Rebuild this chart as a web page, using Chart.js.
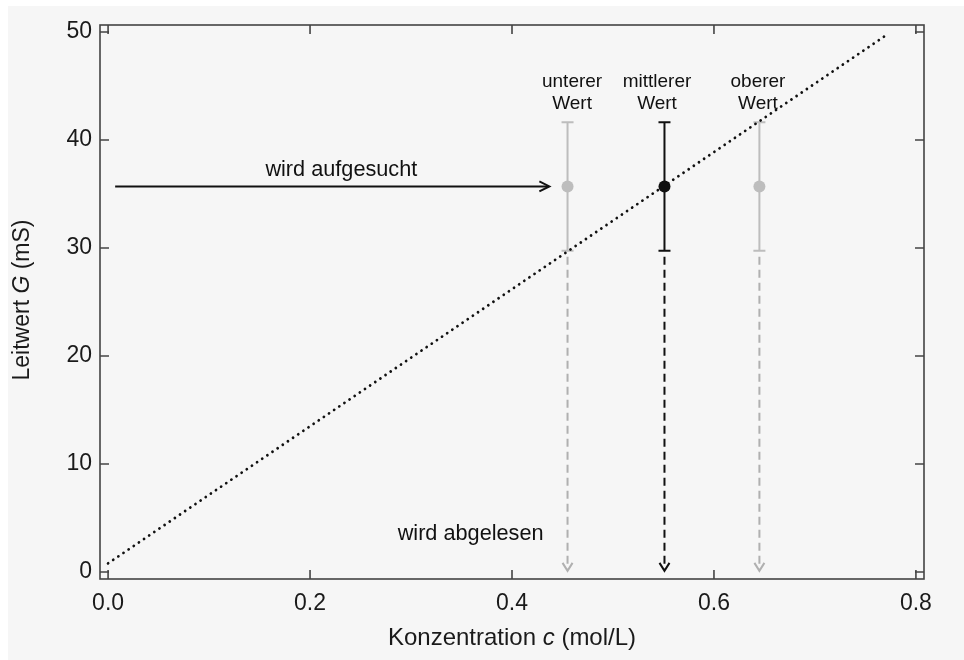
<!DOCTYPE html>
<html>
<head>
<meta charset="utf-8">
<script src="https://cdn.jsdelivr.net/npm/chart.js@4/dist/chart.umd.min.js"></script>
<style>
  html, body { margin: 0; padding: 0; background: #ffffff; }
  #wrap { width: 964px; height: 660px; position: relative; }
</style>
</head>
<body>
<div id="wrap"><canvas id="c" width="964" height="660"></canvas></div>
<script>
// ---- data ----
const calibC = [0.0, 0.772];          // calibration line, concentration (mol/L)
const calibG = [0.8, 49.8];           // calibration line, conductance (mS)
const pointC = [0.455, 0.551, 0.645]; // lower / middle / upper concentration
const pointG = [35.7, 35.7, 35.7];    // measured conductance
const pointErr = [5.95, 5.95, 5.95];  // conductance uncertainty
const pointNames = [["unterer", "Wert"], ["mittlerer", "Wert"], ["oberer", "Wert"]];
const xTicks = [0.0, 0.2, 0.4, 0.6, 0.8];
const yTicks = [0, 10, 20, 30, 40, 50];
const searchArrowC = [0.007, 0.437];  // "wird aufgesucht" arrow
const readArrowG = [29.2, 0.1];
const labelSearch = "wird aufgesucht";
const labelRead = "wird abgelesen";

const FONT = '"Liberation Sans", Arial, sans-serif';
const greyMark = '#bdbdbd';
const greyArrow = '#b0b0b0';
const ink = '#111111';
const markColors = [greyMark, ink, greyMark];
const arrowColors = [greyArrow, ink, greyArrow];

function arrowHead(ctx, x, y, dx, dy, len, half) {
  const px = -dy, py = dx;
  ctx.beginPath();
  ctx.moveTo(x - dx * len + px * half, y - dy * len + py * half);
  ctx.lineTo(x, y);
  ctx.lineTo(x - dx * len - px * half, y - dy * len - py * half);
  ctx.stroke();
}

const decor = {
  id: 'decor',
  beforeDraw(chart) {
    const ctx = chart.ctx;
    ctx.save();
    ctx.fillStyle = '#ffffff';
    ctx.fillRect(0, 0, chart.width, chart.height);
    ctx.fillStyle = '#f6f6f6';
    ctx.fillRect(8, 6, chart.width - 8, chart.height - 6);
    ctx.restore();
  },
  beforeDatasetsDraw(chart) {
    const ctx = chart.ctx, xs = chart.scales.x, ys = chart.scales.y;
    ctx.save();
    // error bars
    pointC.forEach((c, i) => {
      const x = xs.getPixelForValue(c);
      const yT = ys.getPixelForValue(pointG[i] + pointErr[i]);
      const yB = ys.getPixelForValue(pointG[i] - pointErr[i]);
      ctx.strokeStyle = markColors[i];
      ctx.lineWidth = 2;
      ctx.beginPath();
      ctx.moveTo(x, yT); ctx.lineTo(x, yB);
      ctx.moveTo(x - 6, yT); ctx.lineTo(x + 6, yT);
      ctx.moveTo(x - 6, yB); ctx.lineTo(x + 6, yB);
      ctx.stroke();
    });
    // dashed read-off arrows
    pointC.forEach((c, i) => {
      const x = xs.getPixelForValue(c);
      const y0 = ys.getPixelForValue(readArrowG[0]);
      const y1 = ys.getPixelForValue(readArrowG[1]);
      ctx.strokeStyle = arrowColors[i];
      ctx.lineWidth = 2;
      ctx.setLineDash([8, 5]);
      ctx.beginPath();
      ctx.moveTo(x, y0); ctx.lineTo(x, y1 - 2);
      ctx.stroke();
      ctx.setLineDash([]);
      arrowHead(ctx, x, y1, 0, 1, 8, 5);
    });
    // horizontal search arrow
    const yh = ys.getPixelForValue(pointG[0]);
    const xa = xs.getPixelForValue(searchArrowC[0]);
    const xb = xs.getPixelForValue(searchArrowC[1]);
    ctx.strokeStyle = ink;
    ctx.lineWidth = 2;
    ctx.beginPath();
    ctx.moveTo(xa, yh); ctx.lineTo(xb - 1, yh);
    ctx.stroke();
    arrowHead(ctx, xb, yh, 1, 0, 10, 5);
    ctx.restore();
  },
  afterDraw(chart) {
    const ctx = chart.ctx, xs = chart.scales.x, ys = chart.scales.y;
    const a = chart.chartArea;
    ctx.save();
    // frame
    ctx.strokeStyle = '#444444';
    ctx.lineWidth = 1.6;
    ctx.strokeRect(a.left, a.top, a.right - a.left, a.bottom - a.top);
    // inward ticks on all four sides
    ctx.beginPath();
    xTicks.forEach(v => {
      const x = xs.getPixelForValue(v);
      ctx.moveTo(x, a.bottom); ctx.lineTo(x, a.bottom - 9);
      ctx.moveTo(x, a.top); ctx.lineTo(x, a.top + 9);
    });
    yTicks.forEach(v => {
      const y = ys.getPixelForValue(v);
      ctx.moveTo(a.left, y); ctx.lineTo(a.left + 9, y);
      ctx.moveTo(a.right, y); ctx.lineTo(a.right - 9, y);
    });
    ctx.stroke();

    // point labels
    ctx.fillStyle = ink;
    ctx.textAlign = 'center';
    ctx.textBaseline = 'middle';
    ctx.font = '19px ' + FONT;
    const labelC = [0.4595, 0.5436, 0.6436];
    pointNames.forEach((lines, i) => {
      const x = xs.getPixelForValue(labelC[i]);
      ctx.fillText(lines[0], x, ys.getPixelForValue(45.4));
      ctx.fillText(lines[1], x, ys.getPixelForValue(43.35));
    });
    ctx.font = '21.7px ' + FONT;
    ctx.fillText(labelSearch, xs.getPixelForValue(0.231), ys.getPixelForValue(37.2));
    ctx.fillText(labelRead, xs.getPixelForValue(0.359), ys.getPixelForValue(3.5));

    // axis titles with italic symbols
    function mixed(parts, cx, cy, size) {
      let w = 0;
      parts.forEach(p => { ctx.font = p[1] + size + 'px ' + FONT; w += ctx.measureText(p[0]).width; });
      let x = cx - w / 2;
      ctx.textAlign = 'left';
      parts.forEach(p => {
        ctx.font = p[1] + size + 'px ' + FONT;
        ctx.fillText(p[0], x, cy);
        x += ctx.measureText(p[0]).width;
      });
    }
    ctx.fillStyle = '#1a1a1a';
    mixed([["Konzentration ", ""], ["c", "italic "], [" (mol/L)", ""]], 512, 638, 24);
    ctx.save();
    ctx.translate(23, 300);
    ctx.rotate(-Math.PI / 2);
    mixed([["Leitwert ", ""], ["G", "italic "], [" (mS)", ""]], 0, 0, 23);
    ctx.restore();
    ctx.restore();
  }
};

const tickSet = (vals) => (scale) => { scale.ticks = vals.map(v => ({ value: v })); };

new Chart(document.getElementById('c'), {
  type: 'scatter',
  data: {
    datasets: [
      {
        label: 'Kalibriergerade',
        data: calibC.map((c, i) => ({ x: c, y: calibG[i] })),
        showLine: true,
        borderColor: ink,
        borderWidth: 2.8,
        borderDash: [0.01, 6.2],
        borderCapStyle: 'round',
        pointRadius: 0,
        fill: false
      },
      {
        label: 'Messwerte',
        data: pointC.map((c, i) => ({ x: c, y: pointG[i] })),
        pointRadius: 6,
        pointBackgroundColor: markColors,
        pointBorderColor: markColors,
        pointBorderWidth: 0
      }
    ]
  },
  options: {
    responsive: false,
    animation: false,
    events: [],
    layout: { padding: { top: 25, right: 40, left: 0, bottom: 0 } },
    plugins: { legend: { display: false }, tooltip: { enabled: false } },
    scales: {
      x: {
        type: 'linear',
        min: -0.008, max: 0.808,
        afterBuildTicks: tickSet(xTicks),
        afterFit: (s) => { s.height = 81; },
        grid: { display: false, drawTicks: false },
        border: { display: false },
        ticks: {
          padding: 11,
          color: '#1a1a1a',
          font: { family: FONT, size: 23 },
          callback: (v) => Number(v).toFixed(1),
          maxRotation: 0
        }
      },
      y: {
        type: 'linear',
        min: -0.65, max: 50.65,
        afterBuildTicks: tickSet(yTicks),
        afterFit: (s) => { s.width = 100; },
        grid: { display: false, drawTicks: false },
        border: { display: false },
        ticks: {
          padding: 8,
          color: '#1a1a1a',
          font: { family: FONT, size: 23 },
          callback: (v) => String(v)
        }
      }
    }
  },
  plugins: [decor]
});
</script>
</body>
</html>
